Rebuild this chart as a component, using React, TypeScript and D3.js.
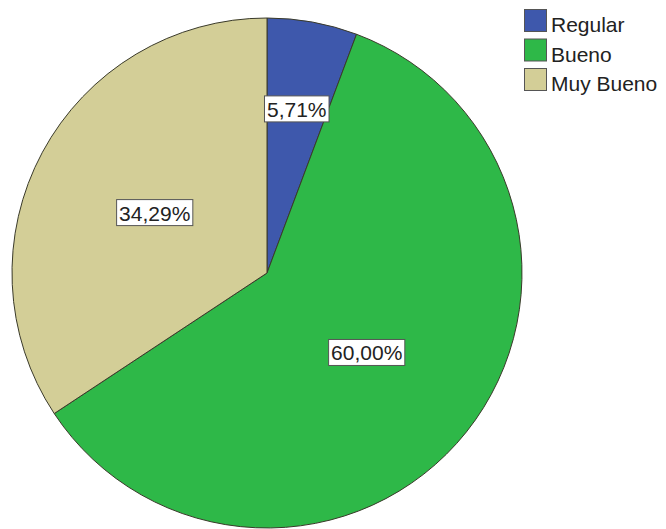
import React from "react";
import * as d3 from "d3";

const categories = ["Regular", "Bueno", "Muy Bueno"];
const percents = [5.71, 60.0, 34.29];
const colors = ["#3E58AC", "#2EB848", "#D3CE97"];

const W = 666;
const H = 529;
const cx = 267;
const cy = 273;
const R = 255;
const FS = 21;

const charW = (ch: string) => (ch === "," ? 0.278 : ch === "%" ? 0.889 : 0.556);

export default function App() {
  const pie = d3.pie<number>().sort(null).value((d) => d);
  const arcs = pie(percents);
  const arcGen = d3.arc<d3.PieArcDatum<number>>().innerRadius(0).outerRadius(R);
  const fmt = (v: number) => v.toFixed(2).replace(".", ",") + "%";

  return (
    <svg width={W} height={H} style={{ position: "absolute", left: 0, top: 0, background: "#fff" }}>
      <g transform={`translate(${cx},${cy})`}>
        {arcs.map((a, i) => (
          <path key={i} d={arcGen(a) || ""} fill={colors[i]} stroke="#3a3a2a" strokeWidth={1} />
        ))}
        {arcs.map((a, i) => {
          const frac = a.endAngle - a.startAngle < 0.6 ? 0.654 : 0.5;
          const lr = R * frac;
          const c = d3.arc<d3.PieArcDatum<number>>().innerRadius(lr).outerRadius(lr).centroid(a);
          const label = fmt(percents[i]);
          const tw = label.split("").reduce((s, ch) => s + charW(ch), 0) * FS;
          const bw = tw + 5;
          const bh = 26;
          return (
            <g key={"l" + i} transform={`translate(${c[0]},${c[1]})`}>
              <rect x={-bw / 2} y={-bh / 2} width={bw} height={bh} fill="#fff" stroke="#555" strokeWidth={1} />
              <text
                textAnchor="middle"
                y={8}
                fontFamily="Liberation Sans, Arial, sans-serif"
                fontSize={FS}
                fill="#222"
              >
                {label}
              </text>
            </g>
          );
        })}
      </g>
      <g transform="translate(524,9)">
        {categories.map((c, i) => (
          <g key={c} transform={`translate(0,${i * 29.5})`}>
            <rect x={0.5} y={0.5} width={22} height={22} fill={colors[i]} stroke="#555" strokeWidth={1} />
            <text
              x={27}
              y={23}
              fontFamily="Liberation Sans, Arial, sans-serif"
              fontSize={FS}
              fill="#222"
            >
              {c}
            </text>
          </g>
        ))}
      </g>
    </svg>
  );
}
